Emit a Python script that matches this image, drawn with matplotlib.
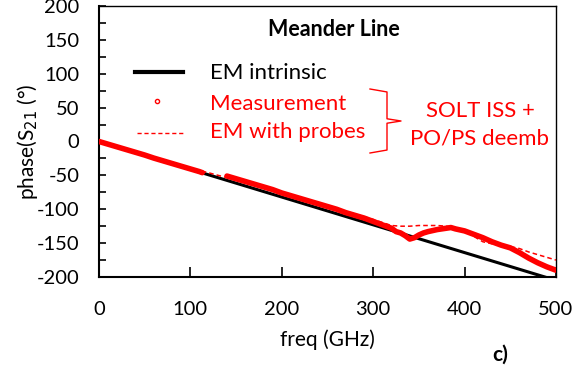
import matplotlib
matplotlib.use("Agg")
import matplotlib.pyplot as plt
from matplotlib.lines import Line2D
from matplotlib.ticker import MultipleLocator

plt.rcParams['font.family'] = ['Lato', 'DejaVu Sans']
plt.rcParams['axes.unicode_minus'] = False

# EM intrinsic (straight line)
em_f = [0, 500]
em_phase = [0, -205]

# Measurement (gap between ~113 and 140 GHz)
meas_f = [0, 10, 20, 30, 40, 50, 60, 70, 80, 90, 100, 110, 113,
          140, 150, 160, 170, 180, 190, 200, 210, 220, 230, 240, 250, 260,
          270, 280, 290, 300, 310, 320, 325, 330, 335, 340, 345, 350, 355,
          360, 370, 380, 385, 390, 400, 410, 420, 430, 440, 450, 460, 470,
          480, 490, 500]
meas_phase = [0, -4, -8, -12, -16, -20, -24.5, -28.5, -32.5, -36.5, -40.5, -44.5, -46,
              -51, -55, -59, -63, -67, -71, -76, -80, -84, -88, -92, -96, -100,
              -105, -109, -113, -118, -123, -128, -133, -135, -139, -144, -142, -138, -135,
              -133, -130, -128, -127, -129, -132, -137, -142, -148, -153, -157, -164, -172,
              -179, -185, -190]

# EM with probes (dashed)
probe_f = [0, 50, 100, 150, 200, 250, 300, 320, 330, 340, 350, 360, 370, 380,
           390, 400, 410, 420, 430, 440, 450, 460, 470, 480, 490, 500]
probe_phase = [0, -19, -39, -57, -76, -95, -115, -124, -125, -125, -124, -124, -124, -125,
               -127, -132, -140, -148, -151, -153, -155, -158, -163, -167, -171, -175]

fig = plt.figure(figsize=(5.76, 3.71), dpi=100)
ax = fig.add_axes([99/576, 1-277/371, (556-99)/576, (277-6)/371])

ax.plot(em_f, em_phase, color='black', lw=2.2, solid_capstyle='butt', zorder=2)
ax.plot(meas_f[:13], meas_phase[:13], color='red', lw=4.0, solid_capstyle='round', zorder=3)
ax.plot(meas_f[13:], meas_phase[13:], color='red', lw=4.0, solid_capstyle='round', zorder=3)
ax.plot(probe_f, probe_phase, color='red', lw=1.1, ls=(0, (3, 2)), zorder=4)

ax.set_xlim(0, 500)
ax.set_ylim(-200, 200)
ax.xaxis.set_major_locator(MultipleLocator(100))
ax.yaxis.set_major_locator(MultipleLocator(50))
ax.yaxis.set_minor_locator(MultipleLocator(25))
ax.tick_params(axis='x', direction='in', length=7, width=1.2, labelsize=14.5, pad=17)
ax.tick_params(axis='y', which='both', direction='in', length=5, width=1.2, labelsize=14.5, pad=14)
for s in ax.spines.values():
    s.set_linewidth(1.5)
ax.spines['top'].set_linewidth(1.0)
ax.spines['right'].set_linewidth(1.0)

ax.set_xlabel('freq (GHz)', fontsize=15)
ax.xaxis.set_label_coords(0.5, -(340 - 277) / 271, transform=ax.transAxes)
ax.xaxis.label.set_va('center')
ax.set_ylabel('phase(S$_{21}$ (°)', fontsize=15)
ax.yaxis.set_label_coords(-(99 - 28) / 457, 0.5, transform=ax.transAxes)
ax.yaxis.label.set_va('center')

fig.text(334/576, 1-30/371, 'Meander Line', ha='center', va='center',
         fontsize=15.5, fontweight='bold')
fig.text(500/576, 1-355/371, 'c)', ha='center', va='center', fontsize=15, fontweight='bold')

# Legend (manual)
tr = fig.transFigure
fig.add_artist(Line2D([135/576, 183/576], [1-72/371]*2, color='black', lw=3, transform=tr))
fig.add_artist(Line2D([157/576], [1-101/371], color='red', marker='o', ms=3, mfc='none', mew=1, ls='none', transform=tr))
fig.add_artist(Line2D([137/576, 185/576], [1-133/371]*2, color='red', lw=1, ls=(0, (3, 2)), transform=tr))
fig.text(210/576, 1-73/371, 'EM intrinsic', color='black', fontsize=16, va='center')
fig.text(210/576, 1-104/371, 'Measurement', color='red', fontsize=16, va='center')
fig.text(210/576, 1-132/371, 'EM with probes', color='red', fontsize=16, va='center')

# brace
bx0, bx1, bxm = 370/576, 387/576, 401/576
ytop, ybot, ymid = 1-89/371, 1-153/371, 1-121/371
fig.add_artist(Line2D([bx0, bx1, bx1, bxm, bx1, bx1, bx0],
                      [ytop, ytop-0.008, ymid+0.006, ymid, ymid-0.006, ybot+0.008, ybot],
                      color='red', lw=1, transform=tr))
fig.text(480/576, 1-111/371, 'SOLT ISS +', color='red', fontsize=16, ha='center', va='center')
fig.text(480/576, 1-138/371, 'PO/PS deemb', color='red', fontsize=16, ha='center', va='center')

fig.savefig('out.png', dpi=100)
